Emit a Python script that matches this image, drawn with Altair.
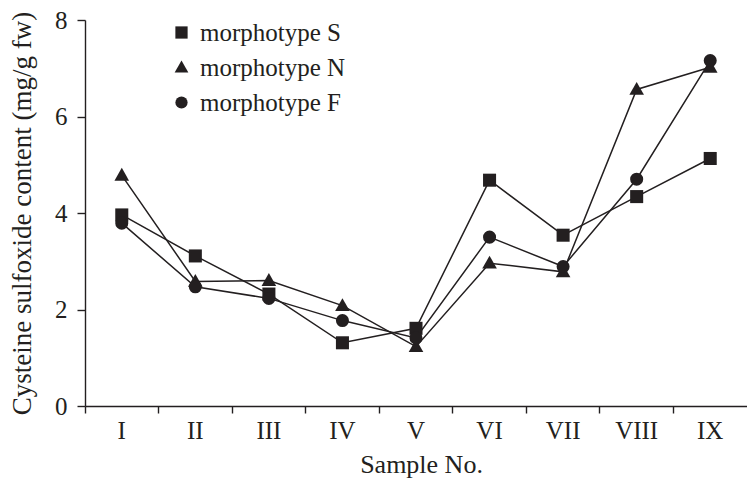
import altair as alt
import pandas as pd

samples = ["I", "II", "III", "IV", "V", "VI", "VII", "VIII", "IX"]
series = ["morphotype S", "morphotype N", "morphotype F"]
s_vals = [3.96, 3.11, 2.32, 1.31, 1.61, 4.68, 3.54, 4.34, 5.13]
n_vals = [4.78, 2.58, 2.60, 2.08, 1.23, 2.96, 2.78, 6.56, 7.02]
f_vals = [3.79, 2.47, 2.23, 1.77, 1.41, 3.50, 2.89, 4.70, 7.16]
y_ticks = [0, 2, 4, 6, 8]

rows = []
for name, vals in zip(series, [s_vals, n_vals, f_vals]):
    for smp, v in zip(samples, vals):
        rows.append({"sample": smp, "series": name, "value": v})
df = pd.DataFrame(rows)

FONT = "Liberation Serif"
INK = "#231f20"
TRIANGLE = "M0,-1.15L1.12,0.82L-1.12,0.82Z"

x_enc = alt.X(
    "sample:N",
    sort=samples,
    scale=alt.Scale(type="band", domain=samples, paddingInner=0, paddingOuter=0),
    axis=alt.Axis(
        title="Sample No.",
        bandPosition=0,
        labelAngle=0,
        labelFont=FONT,
        labelFontSize=25,
        labelColor=INK,
        labelPadding=5,
        titleFont=FONT,
        titleFontSize=26,
        titleFontWeight="normal",
        titleColor=INK,
        titlePadding=8,
        titleX=336,
        domainColor=INK,
        domainWidth=1.4,
        tickColor=INK,
        tickWidth=1.4,
        tickSize=7,
        grid=False,
    ),
)
y_enc = alt.Y(
    "value:Q",
    scale=alt.Scale(domain=[0, 8], nice=False, zero=True),
    axis=alt.Axis(
        title="Cysteine sulfoxide content (mg/g fw)",
        values=y_ticks,
        labelFont=FONT,
        labelFontSize=25,
        labelColor=INK,
        labelPadding=10,
        titleFont=FONT,
        titleFontSize=27,
        titleFontWeight="normal",
        titleColor=INK,
        titlePadding=18,
        domainColor=INK,
        domainWidth=1.4,
        tickColor=INK,
        tickWidth=1.4,
        tickSize=8,
        grid=False,
    ),
)

base = alt.Chart(df).encode(x=x_enc, y=y_enc)

lines = base.mark_line(color=INK, strokeWidth=1.5).encode(
    detail="series:N"
)
points = base.mark_point(filled=True, color=INK, opacity=1, size=170).encode(
    shape=alt.Shape(
        "series:N",
        sort=series,
        scale=alt.Scale(domain=series, range=["square", TRIANGLE, "circle"]),
        legend=alt.Legend(
            title=None,
            orient="none",
            legendX=84,
            legendY=0,
            labelFont=FONT,
            labelFontSize=25,
            labelColor=INK,
            symbolSize=150,
            symbolFillColor=INK,
            symbolStrokeColor=INK,
            rowPadding=9,
            labelOffset=6,
        ),
    )
)

chart = (
    alt.layer(lines, points)
    .properties(
        width=662,
        height=386,
        autosize=alt.AutoSizeParams(type="none"),
        padding={"left": 85, "top": 20, "right": 0, "bottom": 75},
        background="white",
    )
    .configure_view(stroke=None)
)

chart.save("out.html", embed_options={"renderer": "svg", "actions": False})
